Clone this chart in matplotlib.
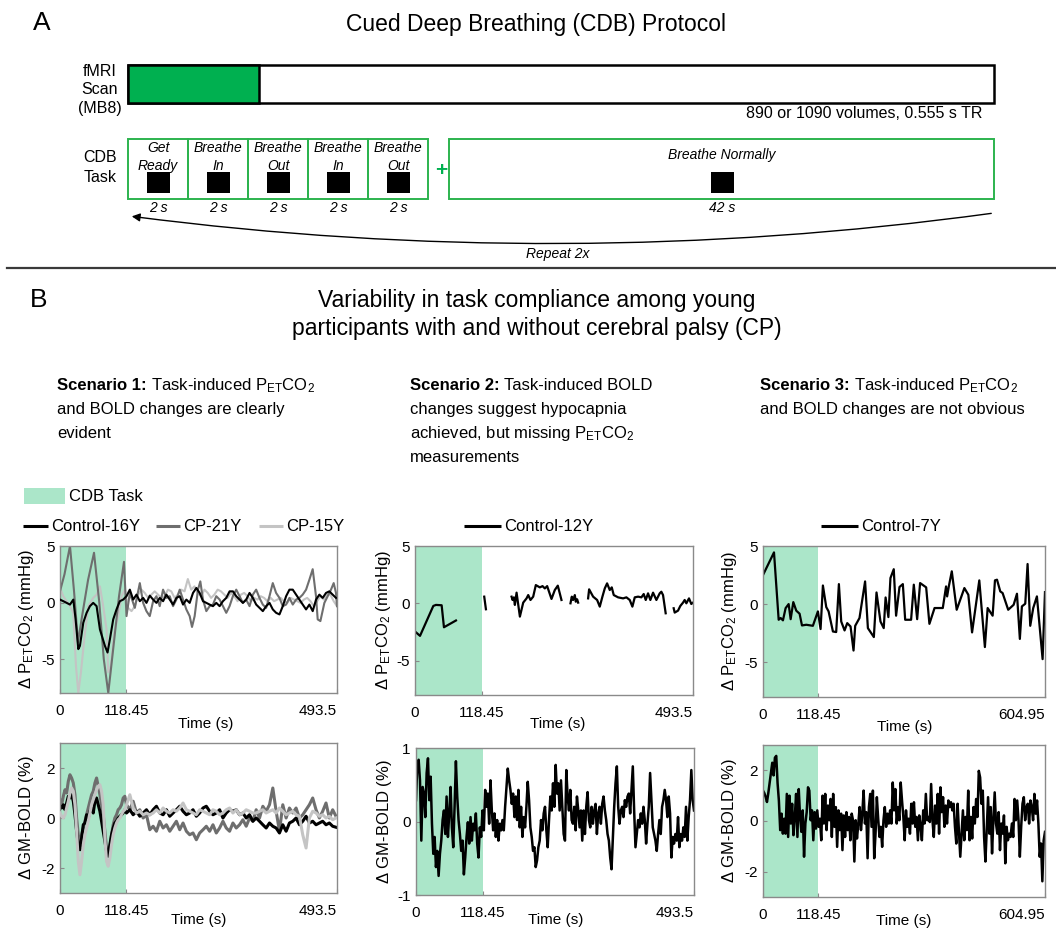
import matplotlib
matplotlib.use("Agg")
import matplotlib.pyplot as plt
import numpy as np
from matplotlib.patches import FancyArrowPatch, Rectangle

plt.rcParams["font.family"] = ["Liberation Sans", "DejaVu Sans"]
plt.rcParams["mathtext.fontset"] = "custom"
plt.rcParams["mathtext.rm"] = "Liberation Sans"
plt.rcParams["mathtext.it"] = "Liberation Sans:italic"
plt.rcParams["mathtext.bf"] = "Liberation Sans:bold"
plt.rcParams["axes.unicode_minus"] = False

# ---- protocol (panel A) ----
STEP_LABELS = ["Get\nReady", "Breathe\nIn", "Breathe\nOut", "Breathe\nIn", "Breathe\nOut"]
STEP_DURATIONS = ["2 s", "2 s", "2 s", "2 s", "2 s"]
REST_LABEL = "Breathe Normally"
REST_DURATION = "42 s"
SCAN_NOTE = "890 or 1090 volumes, 0.555 s TR"

TASK_END = 118.45

# ---- scenario 1: P_ET CO2 (mmHg) ----
CTRL16_CO2_TASK_T = [0, 5.9, 11.8, 17.8, 23.7, 27.8, 32.6, 35.5, 41.5, 47.4, 53.3, 59.2, 65.2,
                     71.1, 80.0, 84.7, 88.9, 94.8, 100.7, 106.6, 112.6]
CTRL16_CO2_TASK = [0.26, 0.12, -0.03, -0.18, 0.26, -1.49, -4.12, -3.83, -1.78, -0.91, -0.32, -0.03,
                   -0.32, -2.37, -3.83, -4.42, -3.25, -1.49, -0.61, 0.12, 0.26]
CTRL16_CO2_POST = [0.56, 1.14, 0.26, 0.70, 0.12, 0.41, -0.03, 0.61, 0.26, -0.03,
                   0.41, 0.12, 0.70, 0.26, -0.18, 0.41, 0.56, -0.18, 0.26, -0.03,
                   0.85, 1.29, 0.85, 0.12, -0.03, -0.18, -0.32, -0.03, -0.32, 0.12,
                   0.41, 0.99, 0.99, 0.56, 0.26, -0.03, 0.26, 0.85, 0.41, -0.18,
                   -0.47, -0.76, -0.32, -0.03, -0.61, -0.91, -1.05, -0.32, 0.56, 1.14,
                   1.14, 0.70, 0.26, -0.18, -0.61, -0.18, -0.76, 0.26, 0.70, 0.41,
                   0.85, 0.99, 0.70, 0.41]
CTRL16_CO2_POST_SPAN = (118.5, 491.7)

CP21_CO2_T = [0, 8, 17.8, 25, 32, 40, 50, 60.6, 70, 78, 86, 95, 105, 114, 118.5,
              124.4, 133.3, 142.2, 148.1, 154.0, 159.9, 165.9, 171.8, 177.7, 183.6,
              189.6, 195.5, 201.4, 207.3, 213.3, 219.2, 225.1, 231.0, 235.2, 239.9,
              245.8, 250.0, 254.7, 260.7, 266.6, 272.5, 278.4, 284.4, 290.3, 296.2,
              302.1, 308.0, 314.0, 319.9, 325.8, 331.7, 337.7, 343.6, 349.5, 355.4,
              361.3, 367.3, 373.2, 379.1, 385.0, 391.0, 396.9, 402.8, 408.7, 414.7,
              420.6, 426.5, 432.4, 438.4, 444.3, 450.2, 456.1, 459.1, 463.9, 471.0,
              476.9, 482.8, 487.6, 491.7, 493.5]
CP21_CO2 = [1.0, 2.5, 5.0, 1.0, -3.5, -1.0, 2.0, 4.4, 0.0, -5.0, -8.0, -4.0, 0.5, 3.6, -1.2,
            0.85, -0.47, 1.72, -0.03, -0.76, -1.20, 0.12, 0.56, -0.32, 1.14,
            0.41, 0.56, -0.32, 0.26, 1.14, 0.26, -0.61, -1.20, -2.16, -1.20,
            1.14, 1.87, 0.26, -0.76, -0.32, -0.18, 0.56, 0.26, -0.32, -0.91,
            -0.32, 0.56, 1.14, 0.56, -0.03, 0.26, -0.32, 0.70, 1.14, 0.41,
            -0.18, -0.47, 0.56, 1.72, 0.85, 0.41, -0.32, -0.18, 0.41, -0.18,
            0.26, 0.41, 0.70, 1.14, 2.02, 2.95, 0.56, -1.49, -1.64, -0.03,
            0.56, 1.14, 1.72, 0.85, -0.32]

CP15_CO2_TASK_T = [0, 5.9, 11.8, 17.8, 23.7, 28.4, 32.6, 37.3, 43.2, 50.4, 59.2, 65.2, 71.1,
                   77.0, 82.9, 85.9, 90.6, 96.6, 103.7, 109.6, 115.5, 121.4, 127.4]
CP15_CO2_TASK = [1.29, 0.56, 0.12, -0.32, -0.91, -5.58, -8.01, -6.17, -3.25, -0.32, 0.41, 0.70,
                 1.43, -0.32, -2.37, -6.17, -5.58, -2.66, -1.20, 0.56, 1.14, -0.47, -0.76]
CP15_CO2_POST = [-0.32, 0.70, 1.14, 0.85, 0.41, 0.70, 0.99, 0.70, 0.41, 0.56,
                 1.14, 0.99, 0.41, 0.70, 1.14, 0.99, 2.08, 1.14, 1.43, 0.85,
                 0.56, 1.14, 0.85, 0.41, 0.70, 1.14, 0.99, 0.70, 0.41, 0.85,
                 0.56, 0.12, 0.70, 0.85, 0.56, 0.12, 0.41, 0.26, 0.56, 0.41,
                 0.12, 0.41, 0.12, 0.26, 0.41, 0.12, -0.03, 0.41, 0.26, 0.12,
                 -0.03, 0.26, 0.41, 0.12, -0.32, 0.12, 0.56, 0.26, 0.70, 0.70,
                 0.12, -0.32]
CP15_CO2_POST_SPAN = (133.3, 493.5)

# ---- scenario 1: GM-BOLD (%) ----
S1_BOLD_TASK_SPAN = (0, 115.5)
S1_BOLD_POST_SPAN = (118.5, 491.7)
CTRL16_BOLD_TASK = [0.47, 0.4, 0.53, 0.33, 0.6, 0.87, 0.8, 0.93, 0.67, 0.13,
                    -0.53, -1.07, -1.27, -0.8, -0.27, -0.2, 0.13, 0.0, 0.27, 0.4,
                    0.2, 0.67, 0.8, 0.53, 0.27, -0.13, -0.53, -0.93, -1.33, -1.53,
                    -1.07, -0.67, -0.4, -0.2, -0.13, 0.0, 0.07, 0.13, 0.2, 0.33]
CTRL16_BOLD_POST = [0.2, 0.33, 0.13, 0.27, 0.07, 0.2, 0.33, 0.13, 0.33, 0.47,
                    0.2, 0.13, 0.33, 0.07, 0.2, 0.33, 0.47, 0.27, 0.13, 0.2,
                    0.33, 0.07, 0.2, 0.4, 0.47, 0.27, 0.13, 0.2, 0.33, 0.0,
                    0.2, 0.33, 0.27, 0.33, 0.13, 0.2, 0.0, 0.13, -0.13, 0.0,
                    -0.13, -0.27, -0.4, -0.2, -0.33, -0.4, -0.6, -0.27, -0.53, -0.2,
                    -0.13, 0.0, -0.27, -0.13, 0.07, -0.2, -0.13, -0.27, -0.2, -0.13,
                    -0.27, -0.2, -0.33, -0.37]
CP21_BOLD_TASK = [0.73, 0.53, 0.87, 1.13, 1.0, 1.47, 1.73, 1.6, 1.4, 0.93,
                  0.0, -0.67, -1.07, -0.67, -0.4, -0.13, 0.13, 0.4, 0.67, 0.93,
                  1.07, 1.4, 1.6, 1.27, 0.93, 0.53, 0.13, -0.53, -1.2, -1.53,
                  -1.2, -0.67, -0.27, 0.0, 0.13, 0.33, 0.4, 0.53, 0.8, 0.87]
CP21_BOLD_POST = [0.53, 0.33, 0.67, 0.2, 0.33, 0.0, 0.13, -0.47, -0.33, -0.53,
                  -0.13, -0.4, -0.27, -0.53, -0.33, -0.13, -0.47, -0.2, -0.53, -0.67,
                  -0.6, -0.87, -0.6, -0.47, -0.33, -0.53, -0.27, -0.6, -0.4, -0.13,
                  -0.4, -0.53, -0.2, -0.4, -0.27, -0.07, -0.33, 0.0, -0.13, 0.33,
                  0.0, 0.47, 0.27, 0.53, 1.2, 0.27, -0.53, 0.53, 0.0, 0.4,
                  0.2, 0.4, 0.0, 0.13, 0.33, 0.53, 0.8, 0.33, 0.0, 0.27,
                  0.6, 0.0, 0.33, 0.07]
CP15_BOLD_TASK = [0.2, 0.07, 0.0, 0.13, 0.4, 0.67, 1.0, 1.2, 1.07, 0.53,
                  -0.53, -1.73, -2.27, -1.73, -1.07, -0.67, -0.4, -0.13, 0.2, 0.53,
                  0.73, 0.93, 1.13, 1.27, 1.33, 1.07, 0.53, -0.8, -1.73, -1.93,
                  -1.6, -1.07, -0.67, -0.4, -0.2, -0.07, 0.0, 0.13, 0.27, 0.33]
CP15_BOLD_POST = [0.53, 0.93, 0.4, 0.2, 0.27, 0.13, 0.2, 0.13, 0.2, 0.33,
                  0.2, 0.4, 0.27, 0.2, 0.33, 0.27, 0.4, 0.6, 0.33, 0.27,
                  0.2, 0.13, 0.33, 0.27, 0.2, 0.13, 0.33, 0.27, 0.13, 0.2,
                  0.33, 0.4, 0.2, 0.33, 0.13, 0.2, 0.33, 0.27, 0.2, 0.2,
                  0.27, 0.33, 0.2, 0.27, 0.33, 0.2, 0.4, 0.27, 0.13, 0.2,
                  0.27, 0.13, 0.07, -0.67, -1.2, 0.0, 0.27, 0.2, 0.07, 0.13,
                  0.0, 0.07, -0.07, 0.0]

# ---- scenario 2: Control-12Y (gaps = missing breaths) ----
CTRL12_CO2_T = [0, 8.9, 32.5, 37.2, 47.3, 51.4, 72.7, np.nan,
                122.9, 125.9, np.nan,
                171.4, 173.2, 175.5, 177.3, 180.3, 186.2, 192.1, 198.0, 201.0, 205.0,
                209.8, 214.5, 221.6, 226.4, 230.5, 234.6, 242.3, 248.2, 253.5, 260.0, np.nan,
                276.0, 278.3, 280.7, 283.7, 285.4, 287.8, 289.6, np.nan,
                307.3, 309.1, 316.2, 323.3, 328.0, 332.7, 336.9, 341.0, 345.7, 349.3,
                352.8, 360.5, 369.4, 375.3, 381.2, 385.9, 390.1, 396.0, 401.9, 406.0,
                409.6, 413.7, 417.8, 422.6, 428.5, 434.4, 437.3, 440.3, 445.0, np.nan,
                459.2, 461.0, 466.9, 471.0, 475.8, 478.7, 481.7, 486.4, 490.5, 493.5]
CTRL12_CO2 = [-2.46, -2.84, -0.23, -0.14, -0.17, -2.09, -1.5, np.nan,
              0.58, -0.52, np.nan,
              0.58, 0.29, 0.52, -0.14, 0.93, -1.16, 0.06, 0.43, 0.72, 0.29,
              0.58, 1.59, 1.39, 1.5, 1.3, 1.5, 0.38, 1.16, 1.54, 0.29, np.nan,
              0.0, 0.58, 0.29, 0.72, 0.14, 0.35, 0.06, np.nan,
              0.43, 1.22, 0.58, 0.29, -0.29, 0.58, 1.3, 1.74, 1.16, 1.39,
              0.72, 0.52, 0.43, 0.52, 0.29, -0.29, 0.52, 0.58, 0.52, 0.81,
              0.29, 0.87, 0.29, 0.93, 0.29, 0.87, 1.01, 0.72, -0.87, np.nan,
              -0.43, -0.81, -0.64, -0.23, 0.06, 0.29, 0.0, 0.43, -0.06, 0.06]
CTRL12_BOLD = [0.29, 0.79, 0.84, 0.56, -0.26, 0.47, 0.38, 0.06, 0.66, 0.86, 0.29, 0.61, -0.03,
               -0.44, -0.21, -0.62, -0.4, -0.74, -0.44, -0.26, 0.02, 0.15, -0.17, 0.34, -0.21,
               0.11, 0.47, -0.08, -0.35, 0.2, 0.82, 0.34, 0.02, -0.17, -0.4, -0.26, -0.72,
               -0.49, -0.21, -0.01, -0.3, 0.06, -0.26, -0.03, -0.12, 0.11, -0.3, -0.49, -0.08,
               -0.21, 0.15, -0.12, 0.43, 0.2, 0.38, -0.03, 0.56, 0.15, -0.12, 0.11, -0.21,
               0.02, -0.26, -0.03, -0.12, 0.02, -0.12, 0.2, 0.47, 0.72, 0.56, 0.43, 0.24,
               0.38, 0.06, 0.34, 0.02, 0.43, -0.08, 0.2, -0.21, 0.06, -0.08, 0.2, 0.54,
               0.29, -0.08, -0.21, -0.4, -0.35, -0.62, -0.53, -0.35, -0.26, 0.02, -0.12, 0.11,
               0.2, -0.12, -0.35, 0.02, 0.34, 0.15, 0.52, 0.2, 0.77, 0.38, 0.52, 0.15,
               0.56, 0.2, -0.17, -0.26, 0.7, 0.34, 0.15, 0.43, 0.02, -0.03, 0.2, -0.12,
               0.34, 0.15, -0.08, 0.15, -0.26, 0.15, -0.17, 0.2, 0.4, 0.02, -0.08, 0.2,
               -0.03, 0.15, 0.24, -0.17, 0.11, 0.2, -0.03, 0.24, 0.34, 0.15, 0.02, -0.17,
               -0.26, -0.49, -0.65, -0.21, 0.2, 0.52, 0.75, 0.2, -0.03, 0.15, 0.2, 0.06,
               0.29, 0.2, 0.34, 0.38, 0.11, 0.43, 0.75, 0.15, -0.35, -0.17, 0.02, -0.08,
               0.11, -0.03, 0.2, 0.02, -0.3, -0.03, 0.2, 0.66, 0.29, -0.08, -0.17, -0.26,
               -0.4, -0.17, 0.02, -0.17, 0.2, 0.29, 0.43, 0.29, 0.06, 0.34, 0.11, -0.49,
               -0.21, -0.3, -0.17, -0.26, 0.06, -0.35, -0.17, -0.26, -0.08, -0.21, 0.2, -0.26,
               0.06, 0.29, 0.7, 0.29, 0.15]

# ---- scenario 3: Control-7Y ----
CTRL7_CO2_T = [0, 23.6, 33.6, 37.8, 42.8, 48.5, 55, 59.3, 65, 71.4,
               78.5, 83.6, 92.8, 107, 117.8, 123.5, 128.5, 135.7, 140.7, 150,
               157, 162.8, 167.8, 175, 180.7, 187.8, 194.2, 197.8, 207, 219,
               225, 237.8, 243.5, 252, 259, 263, 269, 273.4, 280.5, 285.5,
               292.8, 300, 305, 317.7, 323.5, 330.7, 337, 350, 357, 368,
               385.7, 392.7, 395, 398.6, 405, 415.5, 432, 440.5, 448.5, 464,
               476, 481.9, 492.6, 497.6, 502, 509, 514, 526, 537.7, 544.8,
               551, 555.4, 562.6, 567.6, 573.3, 579.7, 587.6, 599.8, 604.9]
CTRL7_CO2 = [2.5, 4.45, -1.35, -1.2, -1.4, -0.35, 0, -1.3, 0.17, -0.57,
             -0.83, -1.84, -1.78, -1.87, -0.63, -2.15, 1.6, -0.26, -0.63, -2.36,
             -2.41, 1.72, -1.5, -2.27, -1.64, -1.93, -4.0, -1.87, -1.2, 1.95,
             -2.07, -2.84, 1.0, -1.5, -2.07, 0.57, -1.12, 2.24, 3.0, -1.0,
             1.47, 1.72, -1.35, -1.35, 1.67, -1.3, 1.81, 1.44, -1.7, -0.34,
             -0.34, 1.52, 0.66, 1.52, 2.82, -0.49, 1.38, 0.8, -2.44, 2.04,
             -3.7, -0.34, -1.0, 2.04, 2.1, 1.09, 0.95, -0.49, -0.06, 0.89,
             -3.0, -0.2, 0.03, 3.45, -1.87, -0.34, 0.66, -4.74, 1.03]
CTRL7_BOLD = [1.2, 1.1, 0.95, 0.75, 1.1, 1.5, 1.9, 2.3, 1.8, 2.5, 2.57, 1.5, 0.8, -0.36, 0.29,
              -0.5, 0.09, -0.5, 1.07, -0.63, 1.0, -0.1, 0.68, -0.56, 0.16, 1.07, -0.63, 1.26,
              0.16, -0.43, 0.42, -1.41, -0.1, 0.35, 1.33, 1.2, 0.03, 0.42, -0.76, 0.35, -0.3,
              0.42, -0.23, 0.09, -0.76, 1.0, -0.1, 1.07, -0.36, 0.61, 0.03, 0.87, -0.63, 1.07,
              -0.23, 0.55, -1.02, 0.42, -0.36, 0.29, -1.15, 0.22, -0.63, 0.35, -0.36, 0.16,
              -0.76, 0.29, 0.03, -1.6, 0.03, -0.69, -0.1, 0.55, -0.36, 0.29, 1.2, -0.1, 0.35,
              -1.47, 0.55, 1.07, -0.23, 1.2, -1.47, -0.5, 0.94, 0.09, -0.63, -0.23, -1.02,
              0.03, 0.55, -0.23, 0.29, -0.1, 0.42, -0.1, 1.52, 0.42, 1.26, -0.1, 0.55, 0.03,
              1.52, 0.81, 0.16, -0.76, 0.42, -0.23, 0.09, -0.5, 0.68, -0.1, 0.74, -0.23, 0.16,
              -0.76, 0.22, -0.17, -0.76, 0.42, -0.1, 1.07, 0.03, 0.16, -0.04, 1.46, 0.03,
              -0.63, 0.61, -0.1, 1.07, -0.5, 1.33, 0.35, 0.94, -0.23, 0.61, -0.1, 0.81, 0.55,
              0.74, 0.42, 0.68, -0.23, -0.89, 0.68, -0.43, -1.41, -0.5, 0.42, -0.76, 0.16,
              -0.36, 1.2, -0.76, 0.16, -0.69, 0.55, -0.1, 0.87, 0.16, 1.98, 1.72, 0.68, 1.2,
              -0.63, -1.6, -0.36, 0.94, -0.5, 0.55, -1.28, 0.03, 1.13, -0.1, -0.5, 0.35,
              -1.15, -0.1, -0.5, 0.22, -1.67, -0.23, -0.76, -0.5, -0.63, -0.1, -0.63, 0.87,
              0.03, 0.81, 0.03, -1.41, -0.23, 0.68, 0.94, 0.03, 0.55, 0.68, -0.1, 0.81, 0.55,
              0.03, 1.07, 0.29, 0.81, -0.1, -1.41, -0.89, -2.38, -0.76, -0.43]

SERIES_COLORS = {"Control-16Y": "#000000", "CP-21Y": "#6e6e6e", "CP-15Y": "#c4c4c4"}
SHADE = "#abe6c9"
GREEN = "#00b050"
BOX_GREEN = "#2cb34e"
SPINE = "#8a8a8a"

W, H = 1056, 930
fig = plt.figure(figsize=(W / 100, H / 100), dpi=100)
renderer = fig.canvas.get_renderer()

# overlay in pixel coordinates for the diagram and free text
ov = fig.add_axes([0, 0, 1, 1])
ov.set_xlim(0, W)
ov.set_ylim(H, 0)
ov.axis("off")

# ---------------- panel A ----------------
ov.text(42, 23, "A", fontsize=19, ha="center", va="center")
ov.text(536, 25, "Cued Deep Breathing (CDB) Protocol", fontsize=16.5, ha="center", va="center")

ov.add_patch(Rectangle((128, 65), 866, 38, facecolor="white", edgecolor="black", lw=1.8))
ov.add_patch(Rectangle((128, 65), 131, 38, facecolor=GREEN, edgecolor="black", lw=1.8))
for txt, yy in zip(["fMRI", "Scan", "(MB8)"], [71, 89, 109]):
    ov.text(100, yy, txt, fontsize=11.5, ha="center", va="center")
ov.text(982, 114, SCAN_NOTE, fontsize=11.5, ha="right", va="center")

for txt, yy in zip(["CDB", "Task"], [158, 178]):
    ov.text(100, yy, txt, fontsize=11.5, ha="center", va="center")

box_w = 60
for i, (lab, dur) in enumerate(zip(STEP_LABELS, STEP_DURATIONS)):
    x0 = 128 + i * box_w
    cx = x0 + box_w / 2
    ov.add_patch(Rectangle((x0, 139), box_w, 60, facecolor="none", edgecolor=BOX_GREEN, lw=1.4))
    l1, l2 = lab.split("\n")
    ov.text(cx, 148, l1, fontsize=10, style="italic", ha="center", va="center")
    ov.text(cx, 166, l2, fontsize=10, style="italic", ha="center", va="center")
    ov.add_patch(Rectangle((cx - 11.5, 172), 23, 21, facecolor="black", edgecolor="none"))
    ov.text(cx, 208, dur, fontsize=10, style="italic", ha="center", va="center")

ov.text(441, 171, "+", fontsize=15, fontweight="bold", color=GREEN, ha="center", va="center")
ov.add_patch(Rectangle((449, 139), 545, 60, facecolor="none", edgecolor=BOX_GREEN, lw=1.4))
ov.text(722, 155, REST_LABEL, fontsize=10, style="italic", ha="center", va="center")
ov.add_patch(Rectangle((711, 172), 23, 21, facecolor="black", edgecolor="none"))
ov.text(722, 208, REST_DURATION, fontsize=10, style="italic", ha="center", va="center")

ov.add_patch(FancyArrowPatch((994, 213), (129, 216), connectionstyle="arc3,rad=-0.067",
                             arrowstyle="-|>", mutation_scale=12, lw=1.0, color="black"))
ov.text(558, 254, "Repeat 2x", fontsize=10, style="italic", ha="center", va="center")
ov.plot([7, 1056], [268, 268], color="#3a3a3a", lw=1.6)

# ---------------- panel B header ----------------
ov.text(39, 300, "B", fontsize=19, ha="center", va="center")
ov.text(537, 300, "Variability in task compliance among young", fontsize=16.5, ha="center", va="center")
ov.text(537, 328, "participants with and without cerebral palsy (CP)", fontsize=16.5,
        ha="center", va="center")

PET = r"P$_{\mathregular{ET}}$CO$_{\mathregular{2}}$"
scenarios = [
    (57, "Scenario 1:", ["Task-induced " + PET, "and BOLD changes are clearly", "evident"]),
    (410, "Scenario 2:", ["Task-induced BOLD", "changes suggest hypocapnia",
                          "achieved, but missing " + PET, "measurements"]),
    (760, "Scenario 3:", ["Task-induced " + PET, "and BOLD changes are not obvious"]),
]
inv = ov.transData.inverted()
for x0, head, lines in scenarios:
    t = ov.text(x0, 390, head, fontsize=12, fontweight="bold", ha="left", va="baseline")
    bb = t.get_window_extent(renderer)
    x_end = inv.transform((bb.x1, bb.y0))[0]
    ov.text(x_end + 4, 390, lines[0], fontsize=12, ha="left", va="baseline")
    for k, line in enumerate(lines[1:], start=1):
        ov.text(x0, 390 + 24 * k, line, fontsize=12, ha="left", va="baseline")

ov.add_patch(Rectangle((24, 488), 41, 16, facecolor=SHADE, edgecolor="none"))
ov.text(69, 496, "CDB Task", fontsize=12, ha="left", va="center")

legend_items = [
    (23, 48, "Control-16Y", SERIES_COLORS["Control-16Y"]),
    (156, 180, "CP-21Y", SERIES_COLORS["CP-21Y"]),
    (259, 283, "CP-15Y", SERIES_COLORS["CP-15Y"]),
    (464, 501, "Control-12Y", "#000000"),
    (821, 858, "Control-7Y", "#000000"),
]
for xa, xb, lab, col in legend_items:
    ov.plot([xa, xb], [526, 526], color=col, lw=2.2, solid_capstyle="butt")
    ov.text(xb + 3, 526, lab, fontsize=12, ha="left", va="center")


# ---------------- data panels ----------------
def px_axes(x0, y0, x1, y1):
    return fig.add_axes([x0 / W, 1 - y1 / H, (x1 - x0) / W, (y1 - y0) / H])


def style(ax, xmax, ylim, yticks, ylabel, ylab_x, xlab_pos):
    ax.axvspan(0, TASK_END, color=SHADE, lw=0, zorder=0)
    ax.set_xlim(0, xmax)
    ax.set_ylim(*ylim)
    ax.set_xticks([0, TASK_END, xmax])
    ax.set_xticklabels(["0", f"{TASK_END:g}", f"{xmax:g}"])
    ax.get_xticklabels()[-1].set_ha("right")
    ax.set_yticks(yticks)
    ax.set_yticklabels([f"{v:g}" for v in yticks])
    ax.tick_params(direction="in", length=3, width=0.8, color=SPINE, labelsize=11)
    ax.tick_params(axis="x", pad=8)
    ax.tick_params(axis="y", pad=4)
    for sp in ax.spines.values():
        sp.set_color(SPINE)
        sp.set_linewidth(1.0)
    ax.set_ylabel(ylabel, fontsize=12)
    ax.yaxis.set_label_coords(ylab_x, 0.5)
    ax.set_xlabel("Time (s)", fontsize=11)
    ax.xaxis.set_label_coords(*xlab_pos)


CO2_LABEL = r"$\Delta$ " + PET + " (mmHg)"
BOLD_LABEL = r"$\Delta$ GM-BOLD (%)"

# scenario 1
ax = px_axes(60, 546, 337, 693)
ax.plot(CTRL16_CO2_TASK_T + list(np.linspace(*CTRL16_CO2_POST_SPAN, len(CTRL16_CO2_POST))),
        CTRL16_CO2_TASK + CTRL16_CO2_POST, color=SERIES_COLORS["Control-16Y"], lw=1.5, zorder=3)
ax.plot(CP15_CO2_TASK_T + list(np.linspace(*CP15_CO2_POST_SPAN, len(CP15_CO2_POST))),
        CP15_CO2_TASK + CP15_CO2_POST, color=SERIES_COLORS["CP-15Y"], lw=1.5, zorder=2)
ax.plot(CP21_CO2_T, CP21_CO2, color=SERIES_COLORS["CP-21Y"], lw=1.5, zorder=2)
style(ax, 493.5, (-8, 5), [-5, 0, 5], CO2_LABEL, -0.085, (0.527, -0.16))

ax = px_axes(60, 743, 337, 893)
t_s1 = np.concatenate([np.linspace(*S1_BOLD_TASK_SPAN, 40), np.linspace(*S1_BOLD_POST_SPAN, 64)])
ax.plot(t_s1, CP21_BOLD_TASK + CP21_BOLD_POST, color=SERIES_COLORS["CP-21Y"], lw=2.2, zorder=2)
ax.plot(t_s1, CTRL16_BOLD_TASK + CTRL16_BOLD_POST, color=SERIES_COLORS["Control-16Y"], lw=2.2, zorder=2)
ax.plot(t_s1, CP15_BOLD_TASK + CP15_BOLD_POST, color=SERIES_COLORS["CP-15Y"], lw=2.2, zorder=3)
style(ax, 493.5, (-3, 3), [-2, 0, 2], BOLD_LABEL, -0.085, (0.5, -0.135))

# scenario 2
ax = px_axes(415, 546, 693, 695)
ax.plot(CTRL12_CO2_T, CTRL12_CO2, color="black", lw=1.6)
style(ax, 493.5, (-8, 5), [-5, 0, 5], CO2_LABEL, -0.08, (0.514, -0.15))

ax = px_axes(416, 748, 694, 895)
ax.plot(np.linspace(0, 493.5, len(CTRL12_BOLD)), CTRL12_BOLD, color="black", lw=1.8)
style(ax, 493.5, (-1, 1), [-1, 0, 1], BOLD_LABEL, -0.08, (0.504, -0.12))

# scenario 3
ax = px_axes(763, 546, 1045, 697)
ax.plot(CTRL7_CO2_T, CTRL7_CO2, color="black", lw=1.6)
style(ax, 604.95, (-8, 5), [-5, 0, 5], CO2_LABEL, -0.085, (0.503, -0.15))

ax = px_axes(763, 745, 1045, 897)
ax.plot(np.linspace(0, 604.95, len(CTRL7_BOLD)), CTRL7_BOLD, color="black", lw=1.8)
style(ax, 604.95, (-3, 3), [-2, 0, 2], BOLD_LABEL, -0.085, (0.5, -0.115))

fig.savefig("out.png", dpi=100)
